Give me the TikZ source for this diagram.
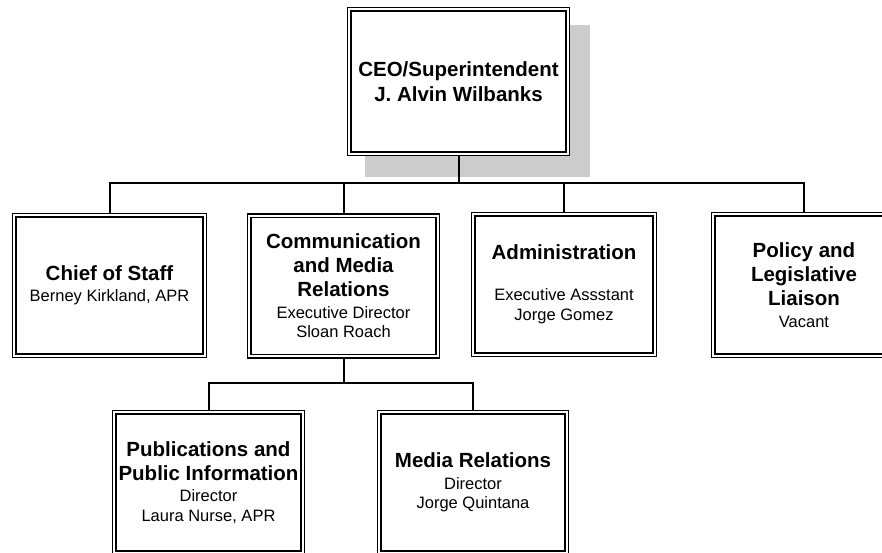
\documentclass[tikz,border=0pt]{standalone}
\usepackage{fontspec}
\setmainfont{Liberation Sans}
\usetikzlibrary{backgrounds}
\newcommand\bt[1]{{\fontsize{20.5}{24}\selectfont\bfseries #1}}
\begin{document}
\begin{tikzpicture}[x=1pt,y=-1pt,
  orgbox/.style={draw=black, double=white, double distance=2pt, line width=1.3pt,
    fill=white, inner sep=0pt, outer sep=2.3pt, align=center,
    font={\fontsize{16.5}{19.5}\selectfont\lineskiplimit=-30pt}},
  conn/.style={line width=2pt, line join=miter, line cap=rect},
  shadowfill/.style={fill=black!20}]
\useasboundingbox (0,0) rectangle (882,553);

\node[orgbox, minimum width=218.4pt, minimum height=144.4pt] (ceo) at (458.5,81.5)
  {\bt{CEO/Superintendent}\\[5pt]\bt{J. Alvin Wilbanks}};

\node[orgbox, minimum width=190.4pt, minimum height=140.4pt] (chief) at (109.5,285.5)
  {\bt{Chief of Staff}\\[2pt]Berney Kirkland, APR};
\node[orgbox, minimum width=188.4pt, minimum height=140.4pt] (comm) at (343.5,286)
  {\bt{Communication}\\[4.5pt]\bt{and Media}\\[4.5pt]\bt{Relations}\\[2pt]Executive Director\\Sloan Roach};
\node[orgbox, minimum width=181.4pt, minimum height=140.4pt] (admin) at (564,284.5)
  {\bt{Administration}\\[2pt]\\Executive Assstant\\Jorge Gomez};
\node[orgbox, minimum width=181.4pt, minimum height=141.4pt] (policy) at (804,285)
  {\bt{Policy and}\\[4.5pt]\bt{Legislative}\\[4.5pt]\bt{Liaison}\\[2pt]Vacant};

\node[orgbox, minimum width=188.4pt, minimum height=140.4pt] (pub) at (208.5,482.5)
  {\bt{Publications and}\\[4.5pt]\bt{Public Information}\\[2pt]Director\\Laura Nurse, APR};
\node[orgbox, minimum width=187.4pt, minimum height=140.4pt] (media) at (473,482.5)
  {\bt{Media Relations}\\[2pt]Director\\Jorge Quintana};

\begin{scope}[on background layer]
  \fill[shadowfill] ([shift={(18,18)}]ceo.north west) rectangle ([shift={(20,21)}]ceo.south east);
\end{scope}

\coordinate (bus) at (0,183.5);
\coordinate (bus2) at (0,382.5);

\draw[conn] (ceo.south) -- (ceo.south |- bus);
\draw[conn] (chief.north) |- (policy.north |- bus) -- (policy.north);
\draw[conn] (comm.north) -- (comm.north |- bus);
\draw[conn] (admin.north) -- (admin.north |- bus);

\draw[conn] (comm.south) -- (comm.south |- bus2);
\draw[conn] (pub.north) |- (media.north |- bus2) -- (media.north);
\end{tikzpicture}
\end{document}
